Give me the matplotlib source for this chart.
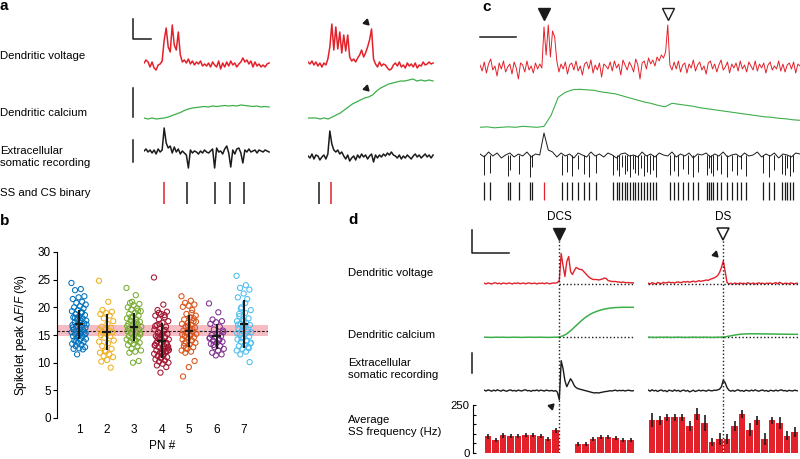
import numpy as np
import matplotlib.pyplot as plt

plt.rcParams['font.family'] = ['Liberation Sans', 'DejaVu Sans']
plt.rcParams['mathtext.fontset'] = 'custom'
plt.rcParams['mathtext.rm'] = 'Liberation Sans'
plt.rcParams['mathtext.it'] = 'Liberation Sans:italic'

RED = '#e3212a'
GREEN = '#3daf4a'
BLACK = '#1b1b1b'
PN_COLORS = ['#0072bd', '#edb120', '#77ac30', '#a2142f', '#d95319', '#7e2f8e', '#4dbeee']

# ---------------- panel a : two example events (ms / arbitrary units) ----------------
a_dur = 139
a_left_volt = [2, 5, 3, -2, 3, -3, -5, 0, 1, 4, 25, 37, 18, 13, 40, 20, 15, 33, 10, 3,
               5, 2, 6, 1, 4, 0, 3, 1, 4, -1, 1, -1, 2, -2, 3, 0, -2, 4, -4, 2,
               -2, 3, -1, 4, 0, 2, -2, 1, 3, 7, 3, 5, 1, 4, -2, 3, -1, 1, -2, 0, -2, 1, 2]
a_left_ca = [0, -1, 0, -1, -0.5, 0, 1, 2.5, 4, 5.5, 7.5, 9, 10, 10.5, 11, 11.5,
             11, 12, 11.5, 12, 12.5, 12, 12.5, 12, 13, 12.5, 12, 11.5, 12, 11, 11.5, 11]
a_left_ext = [0, 2, -1, 1, -2, 1, -3, 2, -1, 1, 23, 8, 3, 5, -2, 4, -1, 2, -3, 0,
              -2, -4, -17, 1, -2, 0, -1, -3, 0, -2, 1, -1, -2, 0, 2, -17, 3, -1, 0, -3,
              2, 5, -2, -16, 1, -3, 2, 3, -2, -12, 1, -1, 2, -1, 0, 1, -2, 1, 0, -1, 1, 0, -1]
a_left_ss = [48, 79, 96, 111]
a_left_cs = [22.6]

a_right_volt = [3, 1, 4, 0, 3, -1, 2, -2, 2, 0, 6, 18, 41, 15, 38, 16, 33, 12, 30, 14,
                30, 8, 4, 6, 3, 7, 10, 15, 8, 12, 18, 25, 36, 6, 1, -2, 3, -1, 1, 0,
                -3, -5, -4, 0, 2, -1, 3, -2, 0, -3, 2, -1, 1, -2, 2, -3, 0, -1, 3, 0, 1, 3, 1, 2]
a_right_ca = [0, 0, 0, -1, 0, -1, 1, 3, 5, 8, 11, 14, 16, 18, 20, 21,
              23, 27, 30, 32, 34, 35, 36, 37, 37, 38, 39, 37, 38, 37, 38, 37]
a_right_ext = [-5, -7, -3, -8, -4, -5, -9, -6, -4, -8, -3, 20, 7, 1, -1, 1, -3, -1, -5, -8,
               -4, -10, -7, -5, -9, -4, -7, -3, -6, -4, -8, -5, -3, -11, -4, -7, -4, -6, -3, -5,
               -2, -4, -1, -4, -5, -7, -4, -8, -5, -7, -4, -6, -8, -5, -3, -6, -4, -7, -5, -3,
               -6, -4, -7, -4]
a_right_ss = [12]
a_right_cs = [25]

# ---------------- panel b : spikelet peak dF/F per PN (%) ----------------
b_groups = [
    [24.4, 23.3, 23.1, 22.0, 21.8, 21.5, 21.0, 20.8, 20.5, 20.2, 20.0, 19.8, 19.5, 19.3, 19.0,
     18.8, 18.6, 18.4, 18.2, 18.0, 17.8, 17.6, 17.5, 17.3, 17.1, 17.0, 16.8, 16.7, 16.5, 16.3,
     16.2, 16.0, 15.9, 15.7, 15.5, 15.4, 15.2, 15.1, 15.0, 14.8, 14.7, 14.5, 14.3, 14.2, 14.0,
     13.8, 13.6, 13.4, 13.2, 13.0, 12.8, 12.6, 12.5, 12.4, 11.5, 16.9, 17.7, 18.1, 15.6, 14.9,
     16.4, 19.1, 13.9, 15.3, 17.2],
    [24.8, 21.0, 19.5, 19.2, 19.0, 18.8, 18.5, 18.0, 17.5, 17.0, 16.5, 16.3, 16.0, 16.0, 15.8,
     15.5, 15.5, 15.2, 15.0, 14.8, 14.5, 14.0, 13.5, 13.0, 12.5, 12.0, 11.8, 11.5, 11.2, 11.0,
     10.5, 10.2, 9.1, 12.2, 13.8],
    [23.5, 22.2, 20.8, 20.6, 20.4, 20.0, 19.8, 19.6, 19.3, 19.0, 18.8, 18.5, 18.3, 18.0, 17.8,
     17.6, 17.4, 17.2, 17.0, 16.9, 16.7, 16.5, 16.4, 16.2, 16.0, 15.9, 15.7, 15.5, 15.3, 15.1,
     15.0, 14.8, 14.6, 14.4, 14.2, 14.0, 13.8, 13.6, 13.4, 13.2, 13.0, 12.5, 12.2, 12.0, 11.8,
     10.3, 10.0, 16.6, 17.3, 18.2, 15.4, 14.1, 16.1, 19.4, 21.0],
    [25.4, 20.5, 19.5, 19.2, 18.8, 18.5, 18.2, 17.8, 17.5, 17.2, 16.8, 16.5, 16.2, 16.0, 15.7,
     15.5, 15.2, 15.0, 14.8, 14.6, 14.4, 14.2, 14.0, 13.8, 13.6, 13.4, 13.2, 13.0, 12.8, 12.6,
     12.4, 12.2, 12.0, 11.8, 11.6, 11.4, 11.2, 11.0, 10.8, 10.6, 10.4, 10.2, 10.0, 9.8, 9.5,
     9.2, 8.2, 13.1, 12.5, 14.9, 12.1, 11.7, 13.5, 15.9, 17.0, 12.3, 11.3, 14.5, 13.3, 10.9,
     16.6, 18.6, 19.0, 12.9, 11.9],
    [22.0, 21.2, 20.8, 20.5, 20.3, 20.1, 19.5, 18.8, 18.5, 18.2, 17.8, 17.5, 17.2, 17.0, 16.8,
     16.5, 16.3, 16.0, 15.8, 15.6, 15.4, 15.2, 15.0, 14.8, 14.6, 14.4, 14.2, 14.0, 13.8, 13.6,
     13.3, 13.0, 12.8, 12.5, 12.2, 12.0, 11.8, 10.3, 9.2, 7.5, 16.1, 15.5, 17.4, 14.9, 13.5,
     18.0, 16.7, 15.1, 19.0, 12.6],
    [20.7, 19.1, 17.8, 17.5, 17.3, 17.0, 16.5, 16.0, 15.5, 15.2, 15.0, 14.8, 14.6, 14.4, 14.2,
     14.0, 13.8, 13.6, 13.4, 13.0, 12.8, 12.5, 12.2, 11.8, 11.5, 11.3, 14.5, 14.1, 13.2, 15.8],
    [25.7, 24.0, 23.5, 23.2, 22.5, 21.8, 21.5, 20.0, 19.5, 19.0, 18.8, 18.0, 17.8, 17.5, 17.2,
     17.0, 16.8, 16.5, 16.2, 16.0, 15.8, 15.5, 15.2, 15.0, 14.7, 14.5, 14.2, 14.0, 13.8, 13.5,
     13.2, 13.0, 12.8, 12.5, 12.2, 12.0, 11.5, 10.1, 17.6, 16.9, 15.6, 14.4, 13.6, 20.8, 18.4,
     12.6, 16.4, 15.3, 13.9, 19.8],
]
b_mean = [16.9, 15.5, 16.4, 14.0, 15.8, 14.8, 17.0]
b_sd = [2.7, 3.3, 2.5, 3.2, 2.9, 2.25, 4.3]
b_pop_mean = 15.8
b_pop_band = (14.8, 16.8)

# ---------------- panel c : long recording (ms) ----------------
c_dur = 900
c_volt = [2, -4, 5, -6, 3, 8, -3, 1, -9, 4, -2, 6, -5, 0, 3, -7, 5, -1, -12, 4,
          2, -5, 6, -3, 1, -6, 4, -2, 3, -1,
          40, 12, 42, 10, 36, 30,
          6, -5, 3, -2, 5, -7, 2, 4, -3, 6, -4, 1, -8, 3, 5, -2, 7, -6, 2, -3, 4, -10, 3, 1,
          -2, 5, -4, 6, -1, 3, -8, 7, 2, -3, 5, 1, -5, 8, 2, -12, 4, 6, -2, 9, 3, 7, 1, 10,
          6, 12, 9, 15,
          42, 2,
          -3, 5, -2, 6, -5, 2, 4, -6, 3, -1, 7, -4, 2, 5, -3, 1, -7, 4, 6, -2, 3, -5, 2, 7,
          -3, 0, 5, -6, 3, -1, 4, -4, 6, -2, 2, -5, 5, 1, -3, 6, -4, 3, -1, 4, -6, 2, 5, -3,
          1, -2, 6, -4, 3, -5, 2, 4, -2, 5, -6, 3, 1]
c_ca = [0, 0.5, -0.5, 0, 0.5, 0, 1, 0.5, 0, 1,
        12, 30, 35, 37.5, 38, 37.5, 37, 35.5, 34.5, 33.5,
        31.5, 29.5, 27.5, 25.5, 24, 22, 20.5, 24, 23, 22, 21, 19.5, 18.5, 17.5, 16.5, 15.5,
        14.5, 13.5, 12.5, 11.5, 10.5, 10, 9, 8.5, 7.5, 7]
c_ext = [1, -2, 3, -1, 2, -3, 0, 2, -2, 1, -1, 3, -2, 1, 0, 22, 5, 3, -2, 2,
         -1, 1, -3, 2, 0, -2, 3, -1, 1, -2, 2, 0, -3, 1, 2, -1, 0, -2, 3, -1,
         1, -2, 2, 0, -1, 3, -2, 1, -1, 2, -3, 1, 0, 2, -2, 1, -1, 3, -2, 0,
         1, -2, 2, -1, 0, 3, -2, 1, -1, 2, -3, 1, 0, -2, 2, 1]
c_ss = [11, 28, 78, 84, 111, 141, 145, 230, 244, 258, 276, 293, 307, 326, 375, 384, 392, 399,
        407, 414, 422, 429, 437, 445, 454, 461, 469, 478, 486, 495, 534, 546, 558, 572, 586,
        600, 614, 639, 645, 650, 656, 666, 677, 694, 708, 722, 733, 748, 797, 814, 827, 848,
        858, 864, 872, 879]
c_ss_depth = [20, 18, 21, 15, 19, 22, 12, 20, 17, 21, 14, 19, 22, 18, 20, 15, 21, 12, 19, 16,
              22, 14, 18, 20, 13, 21, 17, 19, 15, 22, 20, 16, 21, 14, 19, 22, 17, 20, 13, 18,
              21, 15, 19, 22, 16, 20, 14, 21, 18, 22, 15, 19, 20, 13, 21, 17]
c_cs = [180]
c_ds = [528]

# ---------------- panel d : event-triggered averages (-40..40 ms) ----------------
d_dcs_volt = [0.3, -0.4, 0.6, 0.0, -0.5, 0.4, 0.7, -0.2, 0.3, -0.6, 0.5, 0.1, -0.3, 0.6, 0.2, -0.5,
              0.4, 0.0, 0.7, -0.3, 0.2, 0.5, -0.4, 0.3, 0.6, -0.2, 0.1, 0.4, -0.5, 0.3, 0.0, 0.5,
              -0.3, 0.6, 0.2, -0.4, 0.3, 0.5, 0.4, 1.0,
              3, 30, 18, 7, 22, 27, 12, 9, 13, 16, 15, 14, 14, 12, 10, 8, 6, 5, 4, 4, 4,
              3.5, 4, 4.5, 5.5, 5, 3, 2.5, 2, 2, 2, 1.5, 1.5, 1, 1.5, 1, 0.8, 1, 0.6, 0.8, 0.5]
d_ds_volt = [0.3, -0.5, 0.8, 0.2, -0.6, 1.0, 0.4, -0.3, 1.2, 0.5, 0.9, 1.5, 0.6, 1.1, 0.4, 1.3,
             1.6, 0.8, 1.2, 1.9, 1.4, 2.0, 1.3, 1.8, 2.4, 1.6, 2.1, 2.8, 2.2, 2.6, 3.0, 3.5,
             3.1, 4.2, 4.8, 5.5, 6.5, 8.0, 11.0, 16.0,
             22.5, 12, 1,
             -0.5, 0.3, -0.8, 0.5, 0.0, -0.4, 0.6, -0.2, 0.3, -0.6, 0.8, 0.1, -0.3, 0.5, -0.5,
             0.2, 0.7, -0.2, 0.4, -0.7, 0.3, 0.0, 0.6, -0.4, 0.2, 0.9, -0.3, 1.2, 0.2, -0.5,
             0.4, 0.0, -0.3, 0.6, 0.1, -0.4, 0.3, 0.2]
d_dcs_ca = [0.1, 0.0, -0.1, 0.1, 0.0, 0.1, -0.1, 0.0, 0.1, 0.0, -0.1, 0.0, 0.1, 0.0, 0.0, 0.1,
            0.0, -0.1, 0.0, 0.1,
            0.3, 1.5, 3.5, 6.5, 10, 13.5, 17, 20, 22.5, 24.5, 26, 27.2, 28.2, 28.9, 29.4, 29.7,
            29.9, 30, 30, 30, 30]
d_ds_ca = [0.1, 0.0, -0.1, 0.1, 0.0, 0.1, -0.1, 0.0, 0.1, 0.0, -0.1, 0.0, 0.1, 0.0, 0.0, 0.1,
           0.0, -0.1, 0.0, 0.1,
           0.2, 0.8, 1.5, 2.2, 2.8, 3.2, 3.4, 3.5, 3.5, 3.5, 3.4, 3.4, 3.3, 3.3, 3.2, 3.2,
           3.1, 3.1, 3.0, 3.0, 3.0]
d_dcs_ext = [0.5, -0.3, 0.8, 0.2, -0.5, 0.6, -0.2, 0.9, 0.1, -0.4, 0.7, 0.0, -0.6, 0.4, 0.8, -0.2,
             0.3, -0.5, 0.6, 0.1, -0.3, 0.5, 0.9, -0.1, 0.2, -0.6, 0.4, 0.0, 0.7, -0.3, 0.5, 0.2,
             -0.4, 0.6, 0.1, -0.2, 0.3, -0.5, 0.2, -1.5,
             -9, 30, 22, 10, 4, 8, 12, 9, 5, 3, 2, 1.5, 1, 0.5, 0, -0.5, -1, -1.5, -2, -2.2, -2,
             -2.3, -1.8, -1.5, -1, -0.8, -0.5, 0, -0.3, 0.2, 0.5, -0.2, 0.3, 0, 0.4, -0.3, 0.2,
             0.5, 0, -0.2, 0.3]
d_ds_ext = [0.6, -0.5, 0.9, -0.2, 0.4, -0.8, 0.3, 0.7, -0.4, 0.2, -1.0, 0.5, 0.1, -0.6, 0.8, -0.3,
            0.4, -0.9, 0.2, 0.6, -0.5, 0.3, -1.2, -0.4, 0.5, -0.8, -0.2, 0.6, -0.3, 0.4, 0.0, -0.5,
            0.7, 0.1, -0.2, 0.5, 0.3, 0.8, 1.5, 4.0,
            10.5, 8, 3, 0.5, -0.5, 0.3, -0.6, 0.4, 0.9, -0.3, 0.2, -0.7, 0.5, 0.1, -0.4, 0.6,
            -0.2, 0.8, 0.0, -0.5, 0.3, 0.7, -0.3, 0.2, -0.8, 0.4, 0.1, -0.4, 0.6, -0.2, 0.3,
            0.9, -0.1, 0.2, -0.6, 0.4, 0.0, -0.3, 0.5, 0.1, -0.2]
d_bin_centers = np.arange(-38, 40, 4)
d_dcs_rate = [87, 69, 92, 90, 87, 92, 92, 90, 73, 118, 0, 0, 47, 47, 75, 85, 85, 80, 66, 66]
d_dcs_err = [12, 10, 12, 10, 10, 10, 10, 10, 10, 14, 0, 0, 10, 9, 10, 10, 10, 10, 10, 10]
d_ds_rate = [170, 170, 186, 186, 186, 139, 203, 156, 57, 73, 73, 139, 203, 122, 170, 73, 170,
             156, 90, 108]
d_ds_err = [37, 22, 17, 17, 17, 26, 30, 43, 23, 30, 25, 26, 22, 35, 24, 30, 19, 30, 24, 26]

# ---------------- figure ----------------
W, H = 800, 459
fig = plt.figure(figsize=(W / 100, H / 100), dpi=100)


def px_axes(x0, y0, x1, y1, off=True):
    ax = fig.add_axes([x0 / W, 1 - y1 / H, (x1 - x0) / W, (y1 - y0) / H])
    if off:
        ax.set_axis_off()
    return ax


def fig_text(x, y, s, **kw):
    kw.setdefault('fontsize', 8.2)
    kw.setdefault('va', 'center')
    fig.text(x / W, 1 - y / H, s, **kw)


def trace(ax, vals, t0, t1, color, lw):
    ax.plot(np.linspace(t0, t1, len(vals)), vals, color=color, lw=lw, solid_joinstyle='round')


# panel letters
for lab, x, y in [('a', 0, 10), ('b', 0, 225), ('c', 482, 11), ('d', 348, 224)]:
    fig_text(x, y, lab, fontsize=11, weight='bold', va='baseline')

# ---- panel a ----
for lab, y in [('Dendritic voltage', 56), ('Dendritic calcium', 112.5),
               ('Extracellular\nsomatic recording', 157), ('SS and CS binary', 193.5)]:
    fig_text(0, y, lab, linespacing=1.15)

for x0, volt, ca, ext, ss, cs in [(144, a_left_volt, a_left_ca, a_left_ext, a_left_ss, a_left_cs),
                                  (308, a_right_volt, a_right_ca, a_right_ext, a_right_ss, a_right_cs)]:
    x1 = x0 + 140 * 0.9
    av = px_axes(x0, 15, x1, 75)
    av.set(xlim=(0, 140), ylim=(-10, 50))
    trace(av, volt, 0, a_dur, RED, 1.1)
    ac = px_axes(x0, 75, x1, 125)
    ac.set(xlim=(0, 140), ylim=(-7, 43))
    trace(ac, ca, 0, a_dur, GREEN, 0.9)
    ae = px_axes(x0, 125, x1, 180)
    ae.set(xlim=(0, 140), ylim=(-29, 26))
    trace(ae, ext, 0, a_dur, BLACK, 1.1)
    ab = px_axes(x0, 180, x1, 206)
    ab.set(xlim=(0, 140), ylim=(0, 26))
    ab.vlines(ss, 2, 24, color=BLACK, lw=1.1)
    ab.vlines(cs, 2, 24, color=RED, lw=1.1)
    if x0 == 144:
        # scale bars
        av.plot([-12, -12, 8], [46, 26, 26], color=BLACK, lw=1.1, clip_on=False)
        ac.plot([-12, -12], [1, 30], color=BLACK, lw=1.1, clip_on=False)
        ae.plot([-12, -12], [-10.7, 11], color=BLACK, lw=1.1, clip_on=False)
    else:
        av.plot(64.4, 43, marker=(3, 0, -135), ms=5, color=BLACK, clip_on=False)
        ac.plot(64.4, 30, marker=(3, 0, -135), ms=5, color=BLACK, clip_on=False)

# ---- panel b ----
axb = px_axes(57, 252, 268, 418, off=False)
axb.axhspan(*b_pop_band, color='#f6bcc4', lw=0, zorder=0)
axb.axhline(b_pop_mean, color=BLACK, ls=(0, (2.5, 1.5)), lw=0.8, zorder=1)
for i, vals in enumerate(b_groups):
    n = len(vals)
    jitter = ((np.arange(n) * 0.618034) % 1 - 0.5) * 0.55
    axb.scatter(i + 1 + jitter, vals, s=14, facecolors='none', edgecolors=PN_COLORS[i],
                linewidths=0.75, zorder=2)
pn = np.arange(1, 8)
axb.vlines(pn, np.array(b_mean) - np.array(b_sd), np.array(b_mean) + np.array(b_sd),
           color=BLACK, lw=1.5, zorder=3)
axb.hlines(b_mean, pn - 0.15, pn + 0.15, color=BLACK, lw=1.5, zorder=3)
axb.set_xlim(0.2, 7.87)
axb.set_ylim(0, 30)
axb.set_xticks(pn)
axb.set_yticks(range(0, 31, 5))
for s in ['top', 'right', 'bottom']:
    axb.spines[s].set_visible(False)
axb.spines['left'].set_linewidth(0.8)
axb.tick_params(axis='x', length=0, pad=4.5, labelsize=8.5)
axb.tick_params(axis='y', direction='out', length=3, width=0.8, pad=1.5, labelsize=8.5)
axb.set_xlabel('PN #', fontsize=8.5, labelpad=3)
axb.set_ylabel('Spikelet peak $\\Delta F/F$ (%)', fontsize=8.5, labelpad=6)
axb.patch.set_visible(False)

# ---- panel c ----
cv = px_axes(480, 20, 800, 90)
cv.set(xlim=(0, c_dur), ylim=(-23, 47))
trace(cv, c_volt, 0, c_dur, RED, 0.7)
cv.plot([0, 100], [30, 30], color=BLACK, lw=1.1, clip_on=False)
cv.plot(c_cs, [53], marker='v', ms=8, color=BLACK, clip_on=False)
cv.plot(c_ds, [53], marker='v', ms=8, mfc='white', mec=BLACK, mew=1, clip_on=False)
cc = px_axes(480, 85, 800, 135)
cc.set(xlim=(0, c_dur), ylim=(-7.7, 42.3))
trace(cc, c_ca, 0, c_dur, GREEN, 0.8)
ce = px_axes(480, 125, 800, 180)
ce.set(xlim=(0, c_dur), ylim=(-25, 30))
trace(ce, c_ext, 0, c_dur, BLACK, 0.7)
ce.vlines(c_ss, 0, -np.array(c_ss_depth), color=BLACK, lw=0.7)
cb = px_axes(480, 180, 800, 202)
cb.set(xlim=(0, c_dur), ylim=(0, 22))
cb.vlines(c_ss, 2, 20, color=BLACK, lw=0.9)
cb.vlines(c_cs, 2, 20, color=RED, lw=0.9)

# ---- panel d ----
for lab, y in [('Dendritic voltage', 273), ('Dendritic calcium', 335.5),
               ('Extracellular\nsomatic recording', 369), ('Average\nSS frequency (Hz)', 426)]:
    fig_text(348, y, lab, linespacing=1.15)

dot = (0, (1, 1.6))
for x0, name, filled, volt, ca, ext, rate, err in [
        (484.3, 'DCS', True, d_dcs_volt, d_dcs_ca, d_dcs_ext, d_dcs_rate, d_dcs_err),
        (648.3, 'DS', False, d_ds_volt, d_ds_ca, d_ds_ext, d_ds_rate, d_ds_err)]:
    x1 = x0 + 80 * 1.875
    dv = px_axes(x0, 240, x1, 300)
    dv.set(xlim=(-40, 40), ylim=(-16.5, 43.5))
    trace(dv, volt, -40, 40, RED, 1.0)
    dc = px_axes(x0, 300, x1, 345)
    dc.set(xlim=(-40, 40), ylim=(-7.7, 37.3))
    trace(dc, ca, -40, 40, GREEN, 1.1)
    de = px_axes(x0, 345, x1, 405)
    de.set(xlim=(-40, 40), ylim=(-14.3, 45.7))
    trace(de, ext, -40, 40, BLACK, 1.0)
    dr = px_axes(x0, 405, x1, 453, off=not filled)
    dr.set(xlim=(-40, 40), ylim=(0, 250))
    dr.bar(d_bin_centers, rate, width=3.4, color=RED, lw=0, zorder=1)
    dr.errorbar(d_bin_centers, rate, yerr=err, fmt='none', ecolor=BLACK, elinewidth=1.2,
                capsize=0, zorder=2)
    for ax in (dv, dc, de, dr):
        ax.axvline(0, color=BLACK, ls=dot, lw=1.0, zorder=3)
    if filled:
        dv.hlines(0, 0, 40, color=BLACK, ls=dot, lw=1.0, zorder=3)
        dc.hlines(0, 0, 40, color=BLACK, ls=dot, lw=1.0, zorder=0)
        dv.plot(0, 49.5, marker='v', ms=9, color=BLACK, clip_on=False)
        dv.plot([-46.7, -46.7, -26.7], [53.5, 30.8, 30.8], color=BLACK, lw=1.1, clip_on=False)
        de.plot([-46.7, -46.7], [17.4, 38], color=BLACK, lw=1.1, clip_on=False)
        de.plot(-4.2, -15, marker=(3, 0, -45), ms=5, color=BLACK, clip_on=False)
        for s in ['top', 'right', 'bottom']:
            dr.spines[s].set_visible(False)
        dr.spines['left'].set_position(('outward', 8.4))
        dr.spines['left'].set_linewidth(0.8)
        dr.set_xticks([])
        dr.set_yticks([0, 250])
        dr.set_yticks([50, 100, 150, 200], minor=True)
        dr.tick_params(axis='y', which='both', direction='in', length=2.5, width=0.8,
                       labelsize=8.2, pad=2)
        dr.patch.set_visible(False)
    else:
        dv.hlines(0, -40, 40, color=BLACK, ls=dot, lw=1.0, zorder=3)
        dc.hlines(0, -40, 40, color=BLACK, ls=dot, lw=1.0, zorder=0)
        dv.plot(0, 49.5, marker='v', ms=9, mfc='white', mec=BLACK, mew=1.1, clip_on=False)
        dv.plot(-4.6, 29.5, marker=(3, 0, -135), ms=5, color=BLACK, clip_on=False)
    dv.text(0, 66.5, name, ha='center', va='center', fontsize=8.5)

fig.savefig('out.png', dpi=100)
